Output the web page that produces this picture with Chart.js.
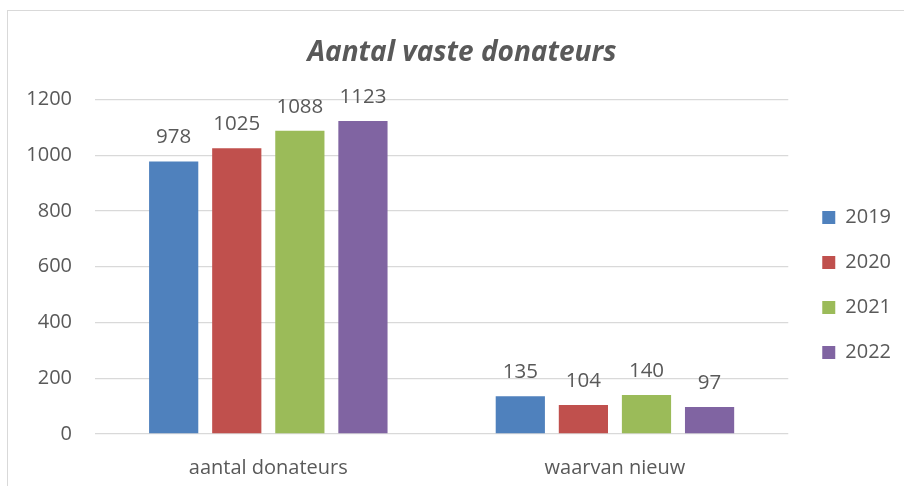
<!DOCTYPE html>
<html>
<head>
<meta charset="utf-8">
<script src="https://cdn.jsdelivr.net/npm/chart.js@4"></script>
<style>
  html, body { margin: 0; padding: 0; background: #fff; overflow: hidden; }
  #frame { position: absolute; left: 7px; top: 10px; width: 1000px; height: 1000px; border: 1px solid #d9d9d9; }
  #wrap { position: absolute; left: 0; top: 0; width: 904px; height: 486px; }
</style>
</head>
<body>
<div id="frame"></div>
<div id="wrap"><canvas id="chart" width="904" height="486"></canvas></div>
<script>
const categories = ["aantal donateurs", "waarvan nieuw"];
const years = ["2019", "2020", "2021", "2022"];
const values2019 = [978, 135];
const values2020 = [1025, 104];
const values2021 = [1088, 140];
const values2022 = [1123, 97];
const yTicks = [0, 200, 400, 600, 800, 1000, 1200];

const colors = ["#4F81BD", "#C0504D", "#9BBB59", "#8064A2"];
const textColor = "#595959";
const FONT = "'Open Sans', sans-serif";

// -------- labels above the bars ----------
const barLabels = {
  id: "barLabels",
  afterDatasetsDraw(chart) {
    const ctx = chart.ctx;
    ctx.save();
    ctx.font = "20.5px " + FONT;
    ctx.fillStyle = textColor;
    ctx.textAlign = "center";
    ctx.textBaseline = "alphabetic";
    chart.data.datasets.forEach((ds, i) => {
      chart.getDatasetMeta(i).data.forEach((bar, j) => {
        ctx.fillText(ds.data[j], bar.x, bar.y - 18);
      });
    });
    ctx.restore();
  }
};

// -------- nudge legend + title like the original ----------
const boxShift = {
  id: "boxShift",
  afterLayout(chart) {
    const l = chart.legend;
    l.left += 9; l.right += 9;
    l.top += 42; l.bottom += 42;
    const t = chart.titleBlock;
    if (t) { t.left += 16; t.right += 16; }
  }
};

const ctx = document.getElementById("chart").getContext("2d");
new Chart(ctx, {
  type: "bar",
  data: {
    labels: categories,
    datasets: [values2019, values2020, values2021, values2022].map((vals, i) => ({
      label: years[i],
      data: vals,
      backgroundColor: colors[i],
      borderWidth: 0,
      barPercentage: 0.78,
      categoryPercentage: 0.728
    }))
  },
  options: {
    responsive: false,
    animation: false,
    layout: { padding: { top: 0, left: 0, right: 12, bottom: 0 } },
    plugins: {
      title: {
        display: true,
        text: "Aantal vaste donateurs",
        color: textColor,
        font: { family: FONT, size: 28, weight: "bold", style: "italic", lineHeight: 1.2 },
        padding: { top: 36.2, bottom: 29.7 }
      },
      legend: {
        position: "right",
        labels: {
          color: textColor,
          font: { family: FONT, size: 20 },
          boxWidth: 13,
          boxHeight: 13,
          padding: 25
        }
      },
      tooltip: { enabled: false }
    },
    scales: {
      x: {
        grid: { display: false },
        border: { display: false },
        ticks: { color: textColor, font: { family: FONT, size: 20 }, padding: 14 },
        afterFit: s => { s.height = 52; }
      },
      y: {
        min: 0,
        max: 1200,
        afterBuildTicks: s => { s.ticks = yTicks.map(v => ({ value: v })); },
        grid: { color: "#d9d9d9", lineWidth: 1.3, drawTicks: false },
        border: { display: false },
        ticks: { color: textColor, font: { family: FONT, size: 20 }, padding: 23, callback: v => String(v) },
        afterFit: s => { s.width = 95; }
      }
    }
  },
  plugins: [barLabels, boxShift]
});
</script>
</body>
</html>
